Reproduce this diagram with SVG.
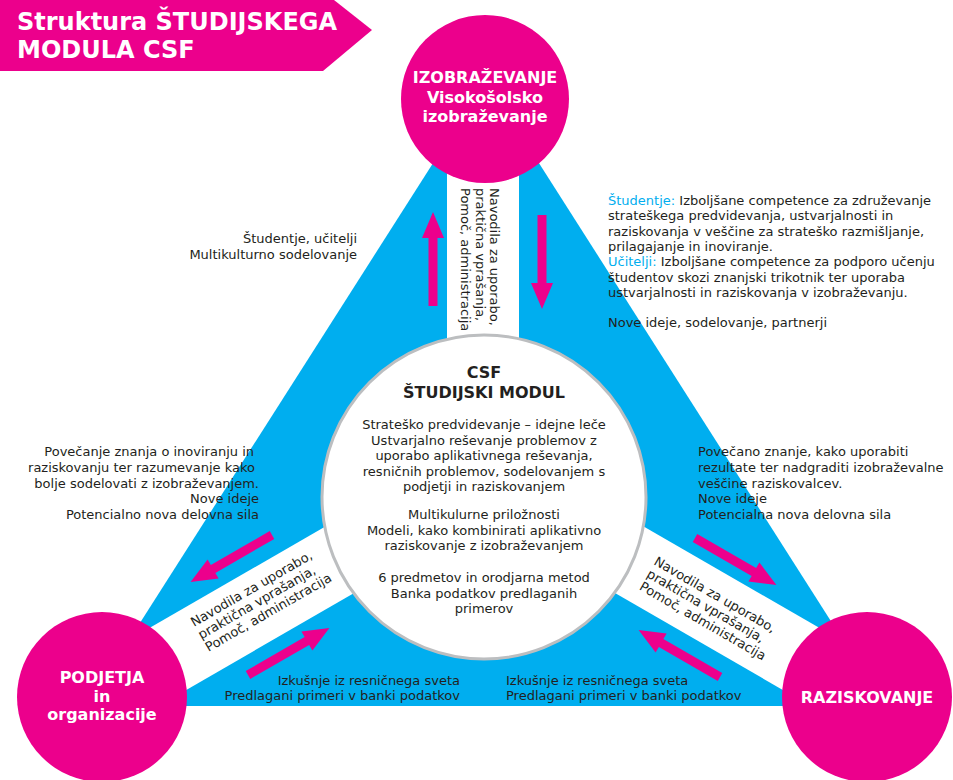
<svg xmlns="http://www.w3.org/2000/svg" width="953" height="780" viewBox="0 0 953 780">
<style>
.t{font-family:"DejaVu Sans","Liberation Sans",sans-serif;font-size:13px;fill:#231f20}
.b{font-family:"DejaVu Sans","Liberation Sans",sans-serif;font-weight:bold;font-size:16px;fill:#ffffff}
.bd{font-family:"DejaVu Sans","Liberation Sans",sans-serif;font-weight:bold;font-size:16px;fill:#231f20}
.ttl{font-family:"DejaVu Sans","Liberation Sans",sans-serif;font-weight:bold;font-size:24px;fill:#ffffff}
.cy{fill:#00aeef}
.mag{fill:#ec008c}
.band{fill:#ffffff}
.arrow{fill:#ec008c}
</style>
<defs>
<path id="arr" d="M0,-4.5 H68 V-11 L94,0 L68,11 V4.5 H0 Z"/>
</defs>
<rect width="953" height="780" fill="#ffffff"/>

<g id="title">
<polygon class="mag" points="0,0 334,0 372,30 323,71 0,71"/>
<text class="ttl" x="17" y="30">Struktura ŠTUDIJSKEGA</text>
<text class="ttl" x="17" y="58">MODULA CSF</text>
</g>

<g id="triangle">
<polygon class="cy" points="486,80 87,706 885,706"/>
<rect class="band" x="447" y="99" width="72" height="400"/>
<rect class="band" x="0" y="-36" width="420" height="72" transform="translate(102,697) rotate(-30)"/>
<rect class="band" x="0" y="-36" width="420" height="72" transform="translate(867,697) rotate(-150)"/>
</g>

<g id="center">
<circle cx="484" cy="497" r="162" fill="#ffffff" stroke="#bcbec0" stroke-width="3"/>
<text class="bd" text-anchor="middle" x="484" y="378">CSF</text>
<text class="bd" text-anchor="middle" x="484" y="398">ŠTUDIJSKI MODUL</text>
<g class="t" text-anchor="middle">
<text x="484" y="429">Strateško predvidevanje – idejne leče</text>
<text x="484" y="444.5">Ustvarjalno reševanje problemov z</text>
<text x="484" y="460">uporabo aplikativnega reševanja,</text>
<text x="484" y="475.5">resničnih problemov, sodelovanjem s</text>
<text x="484" y="491">podjetji in raziskovanjem</text>
<text x="484" y="519">Multikulurne priložnosti</text>
<text x="484" y="534.5">Modeli, kako kombinirati aplikativno</text>
<text x="484" y="550">raziskovanje z izobraževanjem</text>
<text x="484" y="582">6 predmetov in orodjarna metod</text>
<text x="484" y="597.5">Banka podatkov predlaganih</text>
<text x="484" y="613">primerov</text>
</g>
</g>

<g id="izobrazevanje">
<circle class="mag" cx="485" cy="99" r="84"/>
<text class="b" text-anchor="middle" x="485" y="83">IZOBRAŽEVANJE</text>
<text class="b" text-anchor="middle" x="485" y="103">Visokošolsko</text>
<text class="b" text-anchor="middle" x="485" y="122">izobraževanje</text>
</g>

<g id="podjetja">
<circle class="mag" cx="102" cy="697" r="85"/>
<text class="b" text-anchor="middle" x="102" y="683">PODJETJA</text>
<text class="b" text-anchor="middle" x="102" y="702">in</text>
<text class="b" text-anchor="middle" x="102" y="720">organizacije</text>
</g>

<g id="raziskovanje">
<circle class="mag" cx="867" cy="697" r="85"/>
<text class="b" text-anchor="middle" x="867" y="703">RAZISKOVANJE</text>
</g>

<g id="connectors" class="arrow">
<use href="#arr" transform="translate(433,306) rotate(-90)"/>
<use href="#arr" transform="translate(542,215) rotate(90)"/>
<use href="#arr" transform="translate(272,535) rotate(150)"/>
<use href="#arr" transform="translate(248,675) rotate(-30)"/>
<use href="#arr" transform="translate(695,538) rotate(30)"/>
<use href="#arr" transform="translate(720,677) rotate(-150)"/>
</g>

<g id="labels" class="t">
<g transform="translate(490,188) rotate(90)">
<text x="0" y="0">Navodila za uporabo,</text>
<text x="0" y="14.5">praktična vprašanja,</text>
<text x="0" y="29">Pomoč, administracija</text>
</g>
<g transform="translate(194,627) rotate(-30)">
<text x="0" y="0">Navodila za uporabo,</text>
<text x="0" y="14.5">praktična vprašanja,</text>
<text x="0" y="29">Pomoč, administracija</text>
</g>
<g transform="translate(653,564) rotate(30)">
<text x="0" y="0">Navodila za uporabo,</text>
<text x="0" y="14.5">praktična vprašanja,</text>
<text x="0" y="29">Pomoč, administracija</text>
</g>

<text x="608" y="205"><tspan class="cy">Študentje:</tspan> Izboljšane competence za združevanje</text>
<text x="608" y="220.3">strateškega predvidevanja, ustvarjalnosti in</text>
<text x="608" y="235.6">raziskovanja v veščine za strateško razmišljanje,</text>
<text x="608" y="250.9">prilagajanje in inoviranje.</text>
<text x="608" y="266.2"><tspan class="cy">Učitelji:</tspan> Izboljšane competence za podporo učenju</text>
<text x="608" y="281.5">študentov skozi znanjski trikotnik ter uporaba</text>
<text x="608" y="296.8">ustvarjalnosti in raziskovanja v izobraževanju.</text>
<text x="608" y="327.4">Nove ideje, sodelovanje, partnerji</text>

<text x="357" y="243" text-anchor="end">Študentje, učitelji</text>
<text x="357" y="259" text-anchor="end">Multikulturno sodelovanje</text>

<text x="254" y="456" text-anchor="end">Povečanje znanja o inoviranju in</text>
<text x="255" y="472" text-anchor="end">raziskovanju ter razumevanje kako</text>
<text x="259" y="487.5" text-anchor="end">bolje sodelovati z izobraževanjem.</text>
<text x="259" y="503" text-anchor="end">Nove ideje</text>
<text x="259" y="519" text-anchor="end">Potencialno nova delovna sila</text>

<text x="698" y="456">Povečano znanje, kako uporabiti</text>
<text x="698" y="472">rezultate ter nadgraditi izobraževalne</text>
<text x="698" y="487.5">veščine raziskovalcev.</text>
<text x="698" y="503">Nove ideje</text>
<text x="698" y="519">Potencialna nova delovna sila</text>

<text x="460" y="685" text-anchor="end">Izkušnje iz resničnega sveta</text>
<text x="460" y="700" text-anchor="end">Predlagani primeri v banki podatkov</text>
<text x="506" y="685">Izkušnje iz resničnega sveta</text>
<text x="506" y="700">Predlagani primeri v banki podatkov</text>
</g>
</svg>
